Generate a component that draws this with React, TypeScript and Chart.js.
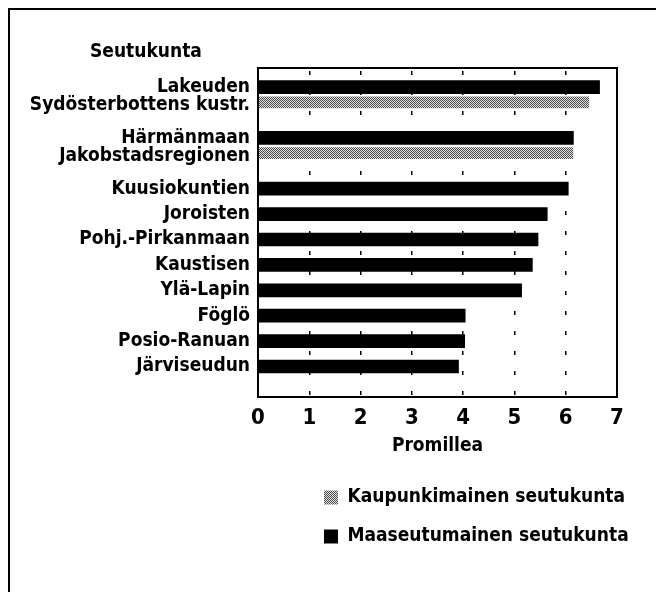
import React, { useEffect, useRef } from 'react';
import { Chart, registerables } from 'chart.js';

Chart.register(...registerables);

// ---- data ----
const categories = [
  'Lakeuden',
  'Sydösterbottens kustr.',
  'Härmänmaan',
  'Jakobstadsregionen',
  'Kuusiokuntien',
  'Joroisten',
  'Pohj.-Pirkanmaan',
  'Kaustisen',
  'Ylä-Lapin',
  'Föglö',
  'Posio-Ranuan',
  'Järviseudun',
];
const kaupunkiValues: (number | null)[] = [null, 6.45, null, 6.14, null, null, null, null, null, null, null, null];
const maaseutuValues: (number | null)[] = [6.66, null, 6.15, null, 6.05, 5.64, 5.46, 5.35, 5.14, 4.04, 4.03, 3.91];
const seriesLabels = ['Kaupunkimainen seutukunta', 'Maaseutumainen seutukunta'];
const xTickMin = 0;
const xTickMax = 7;
const yAxisTitle = 'Seutukunta';
const xAxisTitle = 'Promillea';

// ---- styling ----
const FONT = "'DejaVu Sans Condensed', 'DejaVu Sans', sans-serif";
const ROW_SHIFT = 0.4; // urban bars sit a little higher than their slot in the original
const LABEL_SHIFT = 0.3; // ...and so do their labels, a bit less
const Y_MIN = -0.75;
const Y_MAX = 12.2;

const toPoints = (vals: (number | null)[]) =>
  vals.map((v, i) => (v == null ? null : { x: v, y: i })).filter(Boolean) as { x: number; y: number }[];

export default function App() {
  const ref = useRef<HTMLCanvasElement | null>(null);

  useEffect(() => {
    const canvas = ref.current;
    if (!canvas) return;
    const ctx = canvas.getContext('2d')!;

    const pc = document.createElement('canvas');
    pc.width = 2;
    pc.height = 2;
    const p = pc.getContext('2d')!;
    p.fillStyle = '#e2e2e2';
    p.fillRect(0, 0, 2, 2);
    p.fillStyle = '#4a4a4a';
    p.fillRect(0, 0, 1, 1);
    p.fillRect(1, 1, 1, 1);
    const grayPattern = ctx.createPattern(pc, 'repeat')!;

    const framePlugin = {
      id: 'frame',
      afterDatasetsDraw(chart: any) {
        const { ctx: c, chartArea: a } = chart;
        c.save();
        c.strokeStyle = '#000';
        c.lineWidth = 2;
        c.strokeRect(a.left, a.top, a.right - a.left, a.bottom - a.top);
        c.restore();
      },
      afterDraw(chart: any) {
        const { ctx: c, chartArea: a } = chart;
        c.save();
        c.fillStyle = '#000';
        c.font = `bold 19px ${FONT}`;
        c.textAlign = 'left';
        c.textBaseline = 'middle';
        c.fillText(yAxisTitle, a.left - 168, a.top - 16);
        c.restore();
      },
    };

    const legendShift = {
      id: 'legendShift',
      afterLayout(chart: any) {
        const lg = chart.legend;
        if (!lg) return;
        const w = lg.right - lg.left;
        lg.left = chart.chartArea.left + 46;
        lg.right = lg.left + w;
      },
    };

    const chart = new Chart(ctx, {
      type: 'bar',
      data: {
        datasets: [
          {
            label: seriesLabels[0],
            data: toPoints(kaupunkiValues),
            backgroundColor: grayPattern,
            borderWidth: 0,
            barThickness: 11,
            yAxisID: 'y2',
            grouped: false,
          } as any,
          {
            label: seriesLabels[1],
            data: toPoints(maaseutuValues),
            backgroundColor: '#000',
            borderWidth: 0,
            barThickness: 13,
            yAxisID: 'y',
            grouped: false,
          } as any,
        ],
      },
      options: {
        indexAxis: 'y',
        responsive: false,
        animation: false,
        devicePixelRatio: 1,
        layout: { padding: { top: 58, right: 41, bottom: 50, left: 0 } },
        scales: {
          x: {
            type: 'linear',
            position: 'bottom',
            min: xTickMin,
            max: xTickMax,
            ticks: {
              stepSize: 1,
              color: '#000',
              padding: 8,
              font: { family: FONT, size: 22, weight: 'bold' },
            },
            grid: { color: '#000', lineWidth: 1.5, drawTicks: false },
            border: { display: false, dash: [4, 16], dashOffset: 17 },
            title: {
              display: true,
              text: xAxisTitle,
              color: '#000',
              font: { family: FONT, size: 19, weight: 'bold' },
              padding: { top: 0, bottom: 11 },
            },
            afterFit: (s: any) => {
              s.height = 71;
            },
          },
          y: {
            type: 'linear',
            position: 'left',
            reverse: true,
            offset: false,
            min: Y_MIN,
            max: Y_MAX,
            grid: { display: false, drawTicks: false, offset: false },
            border: { display: false },
            afterBuildTicks: (s: any) => {
              s.ticks = categories.map((_, i) => ({
                value: i - (kaupunkiValues[i] != null ? LABEL_SHIFT : 0),
              }));
            },
            ticks: {
              autoSkip: false,
              color: '#000',
              padding: 8,
              font: { family: FONT, size: 19, weight: 'bold' },
              callback: (_v: any, i: number) => categories[i],
            },
            afterFit: (s: any) => {
              s.width = 248;
            },
          },
          y2: {
            type: 'linear',
            display: false,
            reverse: true,
            offset: false,
            grid: { offset: false },
            min: Y_MIN + ROW_SHIFT,
            max: Y_MAX + ROW_SHIFT,
          },
        },
        plugins: {
          legend: {
            position: 'bottom',
            align: 'start',
            fullSize: false,
            labels: {
              boxWidth: 14,
              boxHeight: 14,
              padding: 20,
              color: '#000',
              font: { family: FONT, size: 19, weight: 'bold' },
            },
          },
          title: { display: false },
          tooltip: { enabled: false },
        },
      } as any,
      plugins: [framePlugin, legendShift],
    });

    return () => chart.destroy();
  }, []);

  return (
    <>
      <style>{'html,body{overflow:hidden;background:#fff}'}</style>
      <div
        style={{
          width: 652,
          height: 600,
          border: '2px solid #000',
          boxSizing: 'border-box',
          overflow: 'hidden',
        }}
      >
        <canvas ref={ref} width={648} height={596} style={{ display: 'block' }} />
      </div>
    </>
  );
}
